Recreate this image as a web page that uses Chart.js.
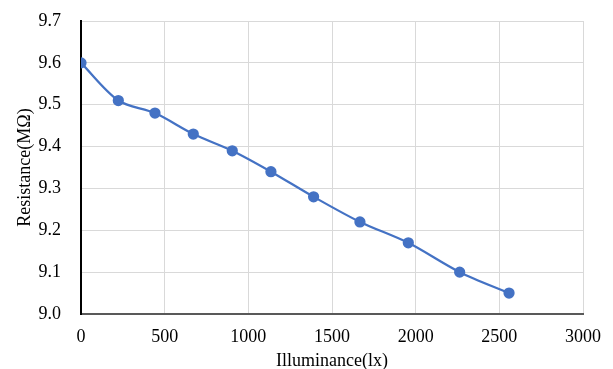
<!DOCTYPE html>
<html><head><meta charset="utf-8">
<script src="https://cdn.jsdelivr.net/npm/chart.js@4"></script>
<style>html,body{margin:0;padding:0;background:#fff}#wrap{width:613px;height:369px}</style>
</head><body><div id="wrap"><canvas id="c" width="613" height="369"></canvas></div>
<script>
const illuminance = [0, 223, 442, 671, 904, 1135, 1390, 1667, 1956, 2263, 2558];
const resistance = [9.60, 9.51, 9.48, 9.43, 9.39, 9.34, 9.28, 9.22, 9.17, 9.10, 9.05];
const xTicks = [0, 500, 1000, 1500, 2000, 2500, 3000];
const yTicks = [9.0, 9.1, 9.2, 9.3, 9.4, 9.5, 9.6, 9.7];

const font = {family: '"Liberation Serif", "Times New Roman", serif', size: 18};
const titleFont = {family: '"Liberation Serif", "Times New Roman", serif', size: 18, lineHeight: 1};
new Chart(document.getElementById('c'), {
  type: 'scatter',
  data: {datasets: [{
    data: illuminance.map((x, i) => ({x, y: resistance[i]})),
    showLine: true,
    borderColor: '#4472C4', backgroundColor: '#4472C4',
    borderWidth: 2.25, pointRadius: 4.5, pointHoverRadius: 4.5,
    tension: 0.3
  }]},
  options: {
    responsive: false, animation: false, devicePixelRatio: 1,
    layout: {padding: {left: 0, right: 30, top: 21, bottom: 0}},
    plugins: {legend: {display: false}, tooltip: {enabled: false}},
    scales: {
      x: {
        type: 'linear', min: 0, max: 3000,
        afterBuildTicks: s => { s.ticks = xTicks.map(v => ({value: v})); },
        afterFit: s => { s.height = 55; s.paddingRight = 0; s.paddingLeft = 0; },
        ticks: {font, color: '#000', padding: 12, maxRotation: 0, callback: v => String(v)},
        grid: {color: '#d9d9d9', lineWidth: 1, drawTicks: false},
        border: {color: '#595959', width: 2},
        title: {display: true, text: 'Illuminance(lx)', font: titleFont, color: '#000', padding: {top: 0, bottom: -1}}
      },
      y: {
        type: 'linear', min: 9.0, max: 9.7,
        afterBuildTicks: s => { s.ticks = yTicks.map(v => ({value: v})); },
        afterFit: s => { s.width = 81; s.paddingTop = 0; s.paddingBottom = 0; },
        ticks: {font, color: '#000', padding: 20, callback: v => Number(v).toFixed(1)},
        grid: {color: '#d9d9d9', lineWidth: 1, drawTicks: false},
        border: {color: '#000', width: 2},
        title: {display: true, text: 'Resistance(MΩ)', font, color: '#000', padding: {top: 14, bottom: 0}}
      }
    }
  }
});
</script></body></html>
